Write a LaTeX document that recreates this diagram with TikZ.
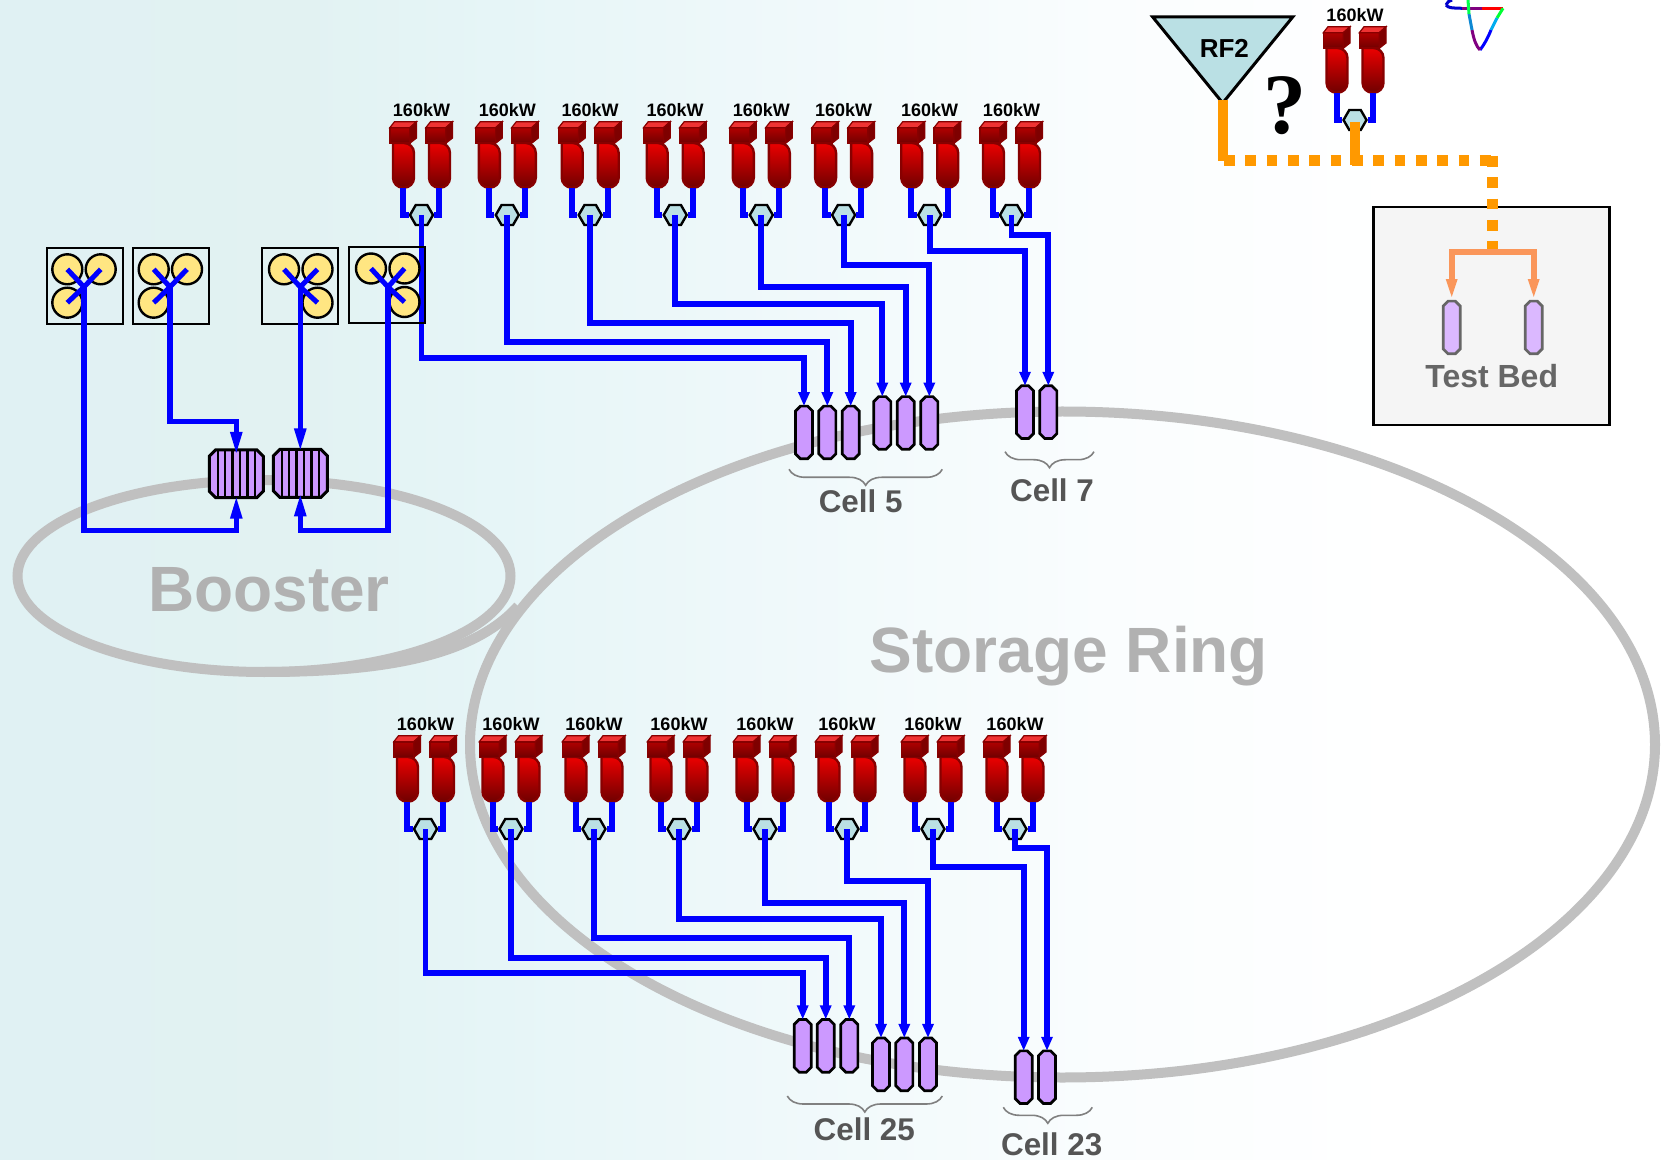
\documentclass[tikz,border=0pt]{standalone}
\usepackage{fontspec}
\setmainfont{Liberation Sans}
\newfontfamily\qmarkfont{Liberation Serif}
\usetikzlibrary{arrows.meta,positioning,calc,shapes.geometric,decorations.pathreplacing}
\definecolor{ringgray}{RGB}{192,192,192}
\definecolor{cellgray}{RGB}{85,85,85}
\definecolor{cavpurple}{RGB}{204,153,255}
\definecolor{hexblue}{RGB}{186,224,228}
\definecolor{rforange}{RGB}{255,153,0}
\definecolor{tborange}{RGB}{250,150,90}
\definecolor{kred}{RGB}{235,0,0}
\definecolor{kdark}{RGB}{112,0,0}
\definecolor{kedge}{RGB}{135,0,0}
\definecolor{qyellow}{RGB}{255,230,130}
\pgfdeclarehorizontalshading{panelbg}{100bp}{rgb(0bp)=(0.878,0.945,0.953); rgb(25bp)=(0.878,0.945,0.953); rgb(34bp)=(0.886,0.949,0.949); rgb(40bp)=(0.902,0.961,0.969); rgb(58bp)=(0.98,0.992,0.996); rgb(67bp)=(1,1,1); rgb(100bp)=(1,1,1)}
\pgfset{bevel size/.initial=2.5pt}
\makeatletter
\pgfdeclareshape{bevelbox}{
  \inheritsavedanchors[from=rectangle]
  \inheritanchorborder[from=rectangle]
  \inheritanchor[from=rectangle]{center}
  \inheritanchor[from=rectangle]{north}
  \inheritanchor[from=rectangle]{south}
  \inheritanchor[from=rectangle]{east}
  \inheritanchor[from=rectangle]{west}
  \backgroundpath{
    \southwest \pgf@xa=\pgf@x \pgf@ya=\pgf@y
    \northeast \pgf@xb=\pgf@x \pgf@yb=\pgf@y
    \pgfmathsetlength\pgf@xc{\pgfkeysvalueof{/pgf/bevel size}}
    \pgfpathmoveto{\pgfqpoint{\pgf@xa}{\dimexpr\pgf@ya+\pgf@xc}}
    \pgfpathlineto{\pgfqpoint{\pgf@xa}{\dimexpr\pgf@yb-\pgf@xc}}
    \pgfpathlineto{\pgfqpoint{\dimexpr\pgf@xa+\pgf@xc}{\pgf@yb}}
    \pgfpathlineto{\pgfqpoint{\dimexpr\pgf@xb-\pgf@xc}{\pgf@yb}}
    \pgfpathlineto{\pgfqpoint{\pgf@xb}{\dimexpr\pgf@yb-\pgf@xc}}
    \pgfpathlineto{\pgfqpoint{\pgf@xb}{\dimexpr\pgf@ya+\pgf@xc}}
    \pgfpathlineto{\pgfqpoint{\dimexpr\pgf@xb-\pgf@xc}{\pgf@ya}}
    \pgfpathlineto{\pgfqpoint{\dimexpr\pgf@xa+\pgf@xc}{\pgf@ya}}
    \pgfpathclose
  }
}
\makeatother
\begin{document}
\begin{tikzpicture}[
  x=0.5pt, y=-0.5pt,
  ringline/.style={draw=ringgray, line width=5pt, ellipse, inner sep=0pt, outer sep=0pt},
  ringname/.style={text=ringgray!92!black, font=\bfseries\fontsize{32}{36}\selectfont},
  celltxt/.style={text=cellgray, inner sep=0pt, font=\bfseries\fontsize{15.7}{18}\selectfont},
  cellbrace/.style={draw=gray, line width=0.8pt, decorate, decoration={brace, mirror, amplitude=8pt}},
  wire/.style={draw=blue, line width=2.9pt, -{Triangle[length=7pt,width=5.4pt]}},
  bwire/.style={draw=blue, line width=2.7pt, -{Triangle[length=12pt,width=5.4pt]}},
  feed/.style={draw=blue, line width=3pt},
  xarm/.style={draw=blue, line width=2.5pt},
  cavity/.style={bevelbox, /pgf/bevel size=2.5pt, draw, line width=1.35pt, fill=cavpurple, minimum width=7.2pt, minimum height=25pt, inner sep=0pt},
  fercav/.style={bevelbox, /pgf/bevel size=3.2pt, draw, line width=1.5pt, fill=cavpurple, minimum width=25.5pt, minimum height=22.4pt, inner sep=0pt,
    path picture={\foreach \sx in {-2.5,-1.5,-0.5,0.5,1.5,2.5} {\draw[line width=1.2pt] ([xshift=\sx*3.7pt]path picture bounding box.north) -- ([xshift=\sx*3.7pt]path picture bounding box.south);}}},
  qbox/.style={draw, line width=1pt, minimum width=38pt, minimum height=38pt, inner sep=0pt},
  qcirc/.style={circle, draw, line width=1.2pt, fill=qyellow, minimum size=15pt, inner sep=0pt},
  hex/.style={regular polygon, regular polygon sides=6, draw, line width=1.2pt, fill=hexblue, minimum size=11.5pt, inner sep=0pt},
  klabel/.style={font=\bfseries\fontsize{9}{10}\selectfont, inner sep=0pt},
  kbody/.style={draw=kedge, line width=1.2pt, top color=kred, bottom color=kdark},
  kfront/.style={draw=kedge, line width=0.8pt, top color=kred!75!black, bottom color=kdark},
  ktop/.style={draw=kedge, line width=0.6pt, fill=kred!80!white},
  kside/.style={draw=kedge, line width=0.6pt, fill=kdark!90!red},
  klytube/.pic={
    \draw[kbody, rounded corners=5pt] (-10.5,-72) -- (-10.5,-27.3) -- (10.5,-27.3) -- (10.5,-72) [sharp corners] -- cycle;
    \draw[kfront] (-13.7,-87.3) rectangle (6.3,-71.7);
    \draw[ktop] (-13.7,-87.3) -- (-9,-93.3) -- (13,-93.3) -- (6.3,-87.3) -- cycle;
    \draw[kside] (6.3,-87.3) -- (13,-93.3) -- (13,-77) -- (6.3,-71.7) -- cycle;
  },
  klypair/.pic={
    \node[klabel] (-lab) at (0,-105) {160kW};
    \pic at (-18,0) {klytube};
    \pic at (18,0) {klytube};
    \node[hex] (-hex) at (0,0) {};
    \coordinate (-ka) at (-18.5,-27.3);
    \coordinate (-kb) at (17.8,-27.3);
    \draw[feed] (-hex.west) -| (-ka);
    \draw[feed] (-hex.east) -| (-kb);
  },
  rfline/.style={draw=rforange, line width=5pt},
  rfdash/.style={draw=rforange, line width=5.3pt, dash pattern=on 5.33pt off 5.33pt},
  tbwire/.style={draw=tborange, line width=3pt, -{Triangle[length=11pt,width=4.8pt]}},
  tbcav/.style={cavity, draw=black!60, fill=cavpurple!70!white},
  rftri/.style={isosceles triangle, isosceles triangle stretches, shape border rotate=-90, draw, line width=1.5pt, fill=hexblue, minimum width=70pt, minimum height=43pt, inner sep=0pt, outer sep=0pt}
]
\useasboundingbox (0,0) rectangle (1666,1160);
\shade[shading=panelbg] (0,0) rectangle (1666,1160);

\node[ringline, minimum width=592.5pt, minimum height=333pt] (ring) at (1062.5,744.5) {};
\node[ringline, minimum width=246.5pt, minimum height=96pt] (booster) at (264,576) {};
\draw[ringgray, line width=5pt] (booster.south) .. controls (370,672) and (470,660) .. (518,606);
\node[ringname] (boostername) at (269,590) {Booster};
\node[ringname] (ringname) at (1069,656) {Storage Ring};

\pic (g1) at (421.5,215) {klypair};
\pic (g2) at (507.3,215) {klypair};
\pic (g3) at (590.2,215) {klypair};
\pic (g4) at (675.2,215) {klypair};
\pic (g5) at (761.3,215) {klypair};
\pic (g6) at (843.6,215) {klypair};
\pic (g7) at (929.7,215) {klypair};
\pic (g8) at (1011.5,215) {klypair};

\pic (h1) at (425.5,829) {klypair};
\pic (h2) at (511,829) {klypair};
\pic (h3) at (594,829) {klypair};
\pic (h4) at (679,829) {klypair};
\pic (h5) at (765,829) {klypair};
\pic (h6) at (847,829) {klypair};
\pic (h7) at (933,829) {klypair};
\pic (h8) at (1015,829) {klypair};

\node[cavity] (c1) at (804,432.5) {};
\node[cavity] (c2) at (827.3,432.5) {};
\node[cavity] (c3) at (850.7,432.5) {};
\node[cavity] (c4) at (882.3,423) {};
\node[cavity] (c5) at (905.7,423) {};
\node[cavity] (c6) at (929.3,423) {};
\node[cavity] (c7) at (1025,412.2) {};
\node[cavity] (c8) at (1048.3,412.2) {};

\node[cavity] (d1) at (802.7,1045.8) {};
\node[cavity] (d2) at (825.7,1045.8) {};
\node[cavity] (d3) at (849.3,1045.8) {};
\node[cavity] (d4) at (881,1064.3) {};
\node[cavity] (d5) at (904.3,1064.3) {};
\node[cavity] (d6) at (928,1064.3) {};
\node[cavity] (d7) at (1023.7,1077.2) {};
\node[cavity] (d8) at (1047,1077.2) {};

\draw[wire] (g1-hex.center) -- ++(0,143) -| (c1.north);
\draw[wire] (g2-hex.center) -- ++(0,127) -| (c2.north);
\draw[wire] (g3-hex.center) -- ++(0,108) -| (c3.north);
\draw[wire] (g4-hex.center) -- ++(0,89) -| (c4.north);
\draw[wire] (g5-hex.center) -- ++(0,72) -| (c5.north);
\draw[wire] (g6-hex.center) -- ++(0,50) -| (c6.north);
\draw[wire] (g7-hex.center) -- ++(0,36) -| (c7.north);
\draw[wire] (g8-hex.center) -- ++(0,20) -| (c8.north);

\draw[wire] (h1-hex.center) -- ++(0,144) -| (d1.north);
\draw[wire] (h2-hex.center) -- ++(0,129) -| (d2.north);
\draw[wire] (h3-hex.center) -- ++(0,109) -| (d3.north);
\draw[wire] (h4-hex.center) -- ++(0,90) -| (d4.north);
\draw[wire] (h5-hex.center) -- ++(0,74) -| (d5.north);
\draw[wire] (h6-hex.center) -- ++(0,52) -| (d6.north);
\draw[wire] (h7-hex.center) -- ++(0,38) -| (d7.north);
\draw[wire] (h8-hex.center) -- ++(0,19) -| (d8.north);

\coordinate (b5l) at (789,469.3);
\coordinate (b5r) at (942.3,469.3);
\coordinate (b7l) at (1005,451.7);
\coordinate (b7r) at (1094,451.7);
\coordinate (b25l) at (787.3,1096);
\coordinate (b25r) at (942.3,1096);
\coordinate (b23l) at (1003.3,1107.3);
\coordinate (b23r) at (1092.3,1107.3);
\draw[cellbrace] (b5l) -- (b5r);
\draw[cellbrace] (b7l) -- (b7r);
\draw[cellbrace] (b25l) -- (b25r);
\draw[cellbrace] (b23l) -- (b23r);
\node[celltxt] (cell5) at (860.7,501) {Cell 5};
\node[celltxt] (cell7) at (1052,490.7) {Cell 7};
\node[celltxt] (cell25) at (864.3,1129) {Cell 25};
\node[celltxt] (cell23) at (1051.7,1144.5) {Cell 23};

\node[qbox] (b1) at (84.7,285.8) {};
\node[qbox] (b2) at (171.3,285.8) {};
\node[qbox] (b3) at (300.2,285.8) {};
\node[qbox, line width=1.2pt] (b4) at (386.7,285) {};
\node[qcirc] (b1a) at (67.3,269.3) {};
\node[qcirc] (b1b) at (100.7,269.3) {};
\node[qcirc] (b1c) at (67.3,302.7) {};
\node[qcirc] (b2a) at (153.7,269.3) {};
\node[qcirc] (b2b) at (187,269.3) {};
\node[qcirc] (b2c) at (153.7,302.7) {};
\node[qcirc] (b3a) at (284,269.3) {};
\node[qcirc] (b3b) at (317.5,269.3) {};
\node[qcirc] (b3c) at (317.5,302.7) {};
\node[qcirc] (b4a) at (371,268.5) {};
\node[qcirc] (b4b) at (404.5,268.5) {};
\node[qcirc] (b4c) at (404.5,302) {};
\coordinate (b1j) at (84,287);
\coordinate (b2j) at (170,287);
\coordinate (b3j) at (300.3,287);
\coordinate (b4j) at (388,287);
\draw[xarm] (b1a.center) -- (b1j) -- (b1b.center);
\draw[xarm] (b1j) -- (b1c.center);
\draw[xarm] (b2a.center) -- (b2j) -- (b2b.center);
\draw[xarm] (b2j) -- (b2c.center);
\draw[xarm] (b3a.center) -- (b3j) -- (b3b.center);
\draw[xarm] (b3j) -- (b3c.center);
\draw[xarm] (b4a.center) -- (b4j) -- (b4b.center);
\draw[xarm] (b4j) -- (b4c.center);

\node[fercav] (fer1) at (236.3,473.8) {};
\node[fercav] (fer2) at (300.3,473.4) {};
\draw[bwire] (b1j) -- ++(0,243.7) -| ([yshift=1.5pt]fer1.south);
\draw[bwire] (b2j) -- ++(0,134.7) -| ([yshift=-3pt]fer1.north);
\draw[bwire] (b3j) -- ([yshift=-1.5pt]fer2.north);
\draw[bwire] (b4j) -- ++(0,243.7) -| ([yshift=2.5pt]fer2.south);

\node[rftri, anchor=apex] (rf2) at (1222.7,103) {};
\node[font=\bfseries\fontsize{13}{15}\selectfont, inner sep=0pt] (rf2name) at (1224.3,48.3) {RF2};
\node[font=\qmarkfont\bfseries\fontsize{43}{46}\selectfont, inner sep=0pt] (query) at (1285,106) {?};
\pic (g9) at (1355,120) {klypair};

\coordinate (rfjoin) at (1224,160.7);
\coordinate (tbtop) at (1492.3,156);
\coordinate (tbjoin) at (1492.3,251.7);
\node[draw, line width=1.25pt, fill=black!4, minimum width=118pt, minimum height=109pt, inner sep=0pt] (testbed) at (1491.7,315.8) {};
\draw[rfline] ([yshift=1.5pt]rf2.apex) -- (rf2.apex |- rfjoin);
\draw[rfdash] (rfjoin) -- (tbtop |- rfjoin);
\draw[rfdash] (tbtop) -- (tbjoin);
\draw[rfline] ([yshift=-1pt]g9-hex.center) -- ++(0,43);

\node[tbcav] (t1) at (1451.7,327.5) {};
\node[tbcav] (t2) at (1533.7,327.5) {};
\draw[tbwire] (tbjoin) -| (t1.north);
\draw[tbwire] (tbjoin) -| (t2.north);
\node[text=black!60, font=\bfseries\fontsize{16}{18}\selectfont, inner sep=0pt] (tbname) at (1491.7,375.7) {Test Bed};

\draw[blue!80!black, line width=1.5pt] (1446,5) .. controls (1448,8) and (1452,8) .. (1462,8.3);
\draw[blue!80!black, line width=1.5pt] (1452,0) .. controls (1449,1) and (1447,2) .. (1446,5);
\draw[violet, line width=1.5pt] (1462,8.3) -- (1482,8.3);
\draw[red, line width=1.5pt] (1482,8.3) -- (1503,8.3);
\draw[green!80!cyan, line width=1.5pt] (1503,8.3) -- (1497,18);
\draw[cyan, line width=1.5pt] (1497,18) -- (1491,30);
\draw[blue, line width=1.5pt] (1491,30) .. controls (1487,40) and (1483,46) .. (1480,50);
\draw[violet, line width=1.5pt] (1480,50) .. controls (1476,46) and (1474,40) .. (1472,30);
\draw[cyan!70!blue, line width=1.5pt] (1472,30) -- (1469,14);
\draw[green!70!cyan, line width=1.5pt] (1469,14) -- (1468,0);
\end{tikzpicture}
\end{document}
